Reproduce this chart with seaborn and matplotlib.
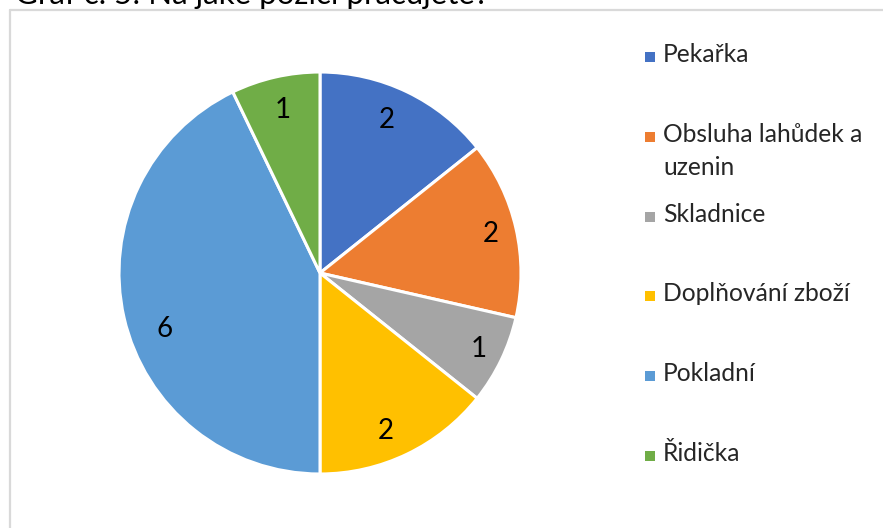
import matplotlib
matplotlib.use("Agg")
import numpy as np
import matplotlib.pyplot as plt
import seaborn as sns
from matplotlib.patches import Rectangle
from matplotlib.lines import Line2D

# Survey answers: position at work
categories = ["Pekařka", "Obsluha lahůdek a\nuzenin", "Skladnice",
              "Doplňování zboží", "Pokladní", "Řidička"]
counts = [2, 2, 1, 2, 6, 1]
colors = ["#4472C4", "#ED7D31", "#A5A5A5", "#FFC000", "#5B9BD5", "#70AD47"]
title = "Graf č. 5: Na jaké pozici pracujete?"

# Placement of the value labels inside each wedge (radius fraction, angle shift)
label_radius = [0.83, 0.87, 0.875, 0.85, 0.82, 0.83]
label_shift_deg = [2, 0, 0, -3, 7, 0]

sns.set_theme(style="white")
plt.rcParams["font.family"] = ["Lato", "DejaVu Sans"]

W, H = 883, 528
fig = plt.figure(figsize=(W / 100, H / 100), dpi=100)
fig.patch.set_facecolor("white")

# Chart frame (left and top edges visible)
frame_col = "#D9D9D9"
fig.add_artist(Line2D([10 / W, 10 / W], [0, 1 - 10 / H], transform=fig.transFigure,
                      color=frame_col, lw=1.6))
fig.add_artist(Line2D([10 / W, 1], [1 - 10 / H, 1 - 10 / H], transform=fig.transFigure,
                      color=frame_col, lw=1.6))

# Heading, partly above the top edge
fig.text(15 / W, 1 - 4 / H, title, ha="left", va="baseline", fontsize=22.5,
         color="#000000")

# Pie
cx, cy, r = 320, 273, 203
ax = fig.add_axes([(cx - r) / W, (H - cy - r) / H, 2 * r / W, 2 * r / H])
wedges, _ = ax.pie(counts, colors=colors, startangle=90, counterclock=False,
                   radius=1.0,
                   wedgeprops=dict(edgecolor="white", linewidth=2.2))
for w, val, rf, sh in zip(wedges, counts, label_radius, label_shift_deg):
    ang = np.deg2rad((w.theta1 + w.theta2) / 2 + sh)
    ax.text(rf * np.cos(ang), rf * np.sin(ang), str(val), ha="center",
            va="center", fontsize=20, color="#000000")
ax.set_xlim(-1.01, 1.01)
ax.set_ylim(-1.01, 1.01)
ax.set_aspect("equal")
ax.axis("off")

# Legend
x_box, x_text = 645, 663
y0, dy = 57, 79.8
for i, (lab, col) in enumerate(zip(categories, colors)):
    yc = y0 + i * dy
    fig.add_artist(Rectangle(((x_box) / W, 1 - (yc + 5) / H), 10 / W, 10 / H,
                             transform=fig.transFigure, facecolor=col,
                             edgecolor="none"))
    fig.text(x_text / W, 1 - (yc - 14) / H, lab, ha="left", va="top",
             fontsize=17.7, color="#262626", linespacing=1.55)

fig.savefig("out.png", dpi=100, facecolor="white")
